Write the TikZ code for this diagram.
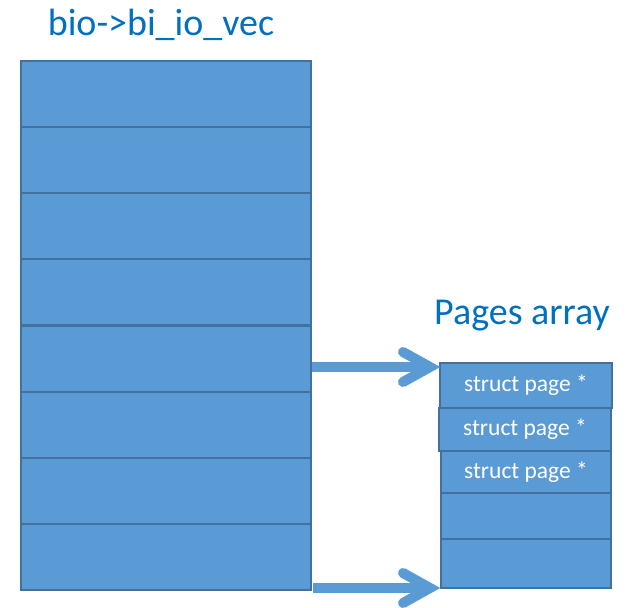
\documentclass[tikz,border=0pt]{standalone}
\usepackage{fontspec}
\setmainfont{Carlito}
\usetikzlibrary{calc}
\definecolor{boxfill}{HTML}{5B9BD5}
\definecolor{boxline}{HTML}{41719C}
\definecolor{titleblue}{HTML}{0070C0}
\begin{document}
\begin{tikzpicture}[x=1pt,y=-1pt,
  cell/.style={draw=boxline, fill=boxfill, line width=2.2pt, inner sep=0pt, outer sep=0pt,
    anchor=north west, text=white, font=\fontsize{23.5}{28}\selectfont},
  heading/.style={text=titleblue, inner sep=0pt, font=\fontsize{38}{44}\selectfont},
  conn/.style={draw=boxfill, line width=10pt, line cap=butt},
  chev/.style={draw=boxfill, line width=10pt, line cap=round, line join=miter}]
\useasboundingbox (0,0) rectangle (630,608);
\fill[white] (0,0) rectangle (630,608);
% left array
\foreach \i in {1,...,8}{
  \node[cell, minimum width=290pt, minimum height=66.125pt] (l\i) at (21,{61+(\i-1)*66.125}) {};
}
% right array
\node[cell, minimum width=172pt, minimum height=45pt] (p1) at (440,363) {struct page *};
\node[cell, minimum width=172pt, minimum height=43pt] (p2) at (439,408) {struct page *};
\node[cell, minimum width=170pt, minimum height=42pt] (p3) at (441,451) {struct page *};
\node[cell, minimum width=170pt, minimum height=46pt] (p4) at (441,493) {};
\node[cell, minimum width=170pt, minimum height=49pt] (p5) at (441,539) {};
% headings
\node[heading] (h1) at (161,25) {bio->bi\_io\_vec};
\node[heading] (h2) at (522,316) {Pages array};
% connectors
\coordinate (tip1) at ($(p1.north west)+(-10,4)$);
\coordinate (tip2) at ($(p5.south west)+(-11,0)$);
\draw[conn] ([xshift=1pt]l5.east |- tip1) -- ([xshift=-3pt]tip1);
\draw[chev] ($(tip1)+(-27,-15)$) -- (tip1) -- ($(tip1)+(-27,15)$);
\draw[conn] ([xshift=2pt]l8.east |- tip2) -- ([xshift=-3pt]tip2);
\draw[chev] ($(tip2)+(-27,-15)$) -- (tip2) -- ($(tip2)+(-27,15)$);
\end{tikzpicture}
\end{document}
